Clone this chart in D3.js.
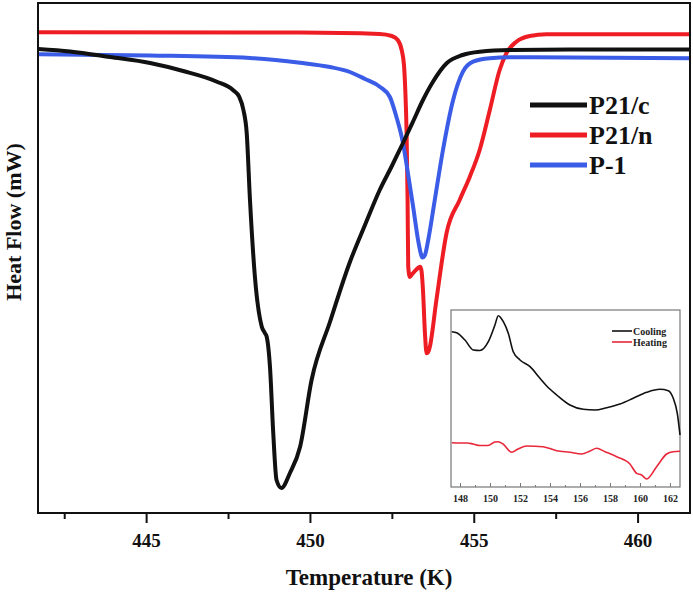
<!DOCTYPE html>
<html><head><meta charset="utf-8">
<script src="https://cdn.jsdelivr.net/npm/d3@7"></script>
<style>
html,body{margin:0;padding:0;background:#fff;}
svg{display:block;font-family:"Liberation Serif","Times New Roman",serif;font-weight:bold;}
</style></head>
<body><svg id="chart" width="693" height="593"></svg>
<script>
// ---- main DSC data: temperature (K) and heat flow (arbitrary units) ----
const p21cT = [441.71,442.68,443.90,445.12,446.13,447.16,447.65,447.84,447.97,448.07,448.17,448.32,448.53,448.63,448.68,448.78,448.88,448.98,449.13,449.39,449.70,450.05,450.61,451.22,451.68,452.13,452.50,452.84,453.14,453.45,453.75,454.18,454.66,455.18,456.19,458.84,461.59];
const p21cV = [46.4,46.15,45.6,45.0,44.2,43.13,42.3,41.63,40.3,38.0,31.3,23.63,18.63,17.97,17.63,14.63,8.0,3.3,2.5,4.0,6.63,13.3,19.1,25.1,28.8,32.3,34.7,37.0,39.1,41.3,43.1,45.0,45.8,46.13,46.3,46.35,46.35];

const p21nT = [441.71,449.70,452.13,452.50,452.68,452.80,452.87,452.91,452.95,452.98,453.00,453.05,453.10,453.15,453.32,453.37,453.41,453.45,453.51,453.56,453.61,453.66,453.86,454.17,454.57,454.88,455.18,455.49,455.79,456.00,456.30,456.71,457.22,461.59];
const p21nV = [48.07,48.05,47.9,47.7,47.3,46.3,44.8,42.3,38.0,31.3,24.6,23.6,23.8,24.0,24.55,24.63,24.1,22.3,18.0,15.97,16.1,16.63,21.3,28.0,31.3,33.63,36.3,40.3,44.3,46.0,47.13,47.7,47.87,47.87];

const p1T = [441.71,445.12,448.17,449.70,450.61,451.22,451.68,452.13,452.44,452.64,452.84,452.99,453.15,453.30,453.38,453.43,453.51,453.61,453.81,454.06,454.37,454.67,454.98,455.49,456.19,461.59];
const p1V = [45.87,45.75,45.5,45.03,44.6,44.1,43.4,42.63,41.6,39.6,37.0,34.0,30.63,27.3,26.0,25.55,25.8,27.3,31.3,36.3,41.3,44.13,45.13,45.47,45.57,45.47];

const seriesNames = ["P21/c","P21/n","P-1"];
const seriesColors = ["#111111","#ee1d24","#3a5ce6"];

const majorTicks = [445,450,455,460];
const minorTicks = [442.5,447.5,452.5,457.5];

// ---- inset data ----
const coolT = [147.45,147.78,148.33,148.89,149.33,149.89,150.33,150.55,150.89,151.22,151.55,152.0,152.67,153.33,153.78,154.45,155.33,156.22,157.0,157.78,158.67,159.55,160.45,161.33,161.89,162.22,162.49,162.67];
const coolV = [15.53,15.43,14.7,13.7,13.65,14.53,16.2,17.13,16.53,15.37,13.53,12.7,12.03,10.87,10.1,9.2,8.2,7.77,7.7,7.93,8.3,8.87,9.47,9.77,9.63,8.87,7.37,5.2];
const heatT = [147.45,148.0,148.47,148.87,149.33,149.87,150.33,150.53,150.87,151.45,151.87,152.45,153.53,154.45,155.33,156.11,156.67,157.11,157.67,158.45,159.33,159.78,160.11,160.45,161.11,161.78,162.22,162.67];
const heatV = [4.43,4.4,4.4,4.3,4.15,4.15,4.5,4.53,4.3,3.47,3.8,4.1,4.03,3.63,3.47,3.3,3.6,3.87,3.53,3.03,2.3,1.37,1.2,0.8,2.03,3.3,3.53,3.57];
const insetNames = ["Cooling","Heating"];
const insetColors = ["#111111","#e8283a"];
const insetLabels = [148,150,152,154,156,158,160,162];
const insetMinor = [149,151,153,155,157,159,161];

// ---- drawing ----
const svg = d3.select("#chart");
const M = {left:38, top:3, right:690, bottom:513};

const x = d3.scaleLinear().domain([441.7,461.6]).range([M.left, M.right]);
const y = d3.scaleLinear().domain([0,51]).range([M.bottom, M.top]);

const line = d3.line().x(d=>x(d[0])).y(d=>y(d[1])).curve(d3.curveMonotoneX);
const zip = (a,b)=>a.map((v,i)=>[v,b[i]]);
const mainSeries = [zip(p21cT,p21cV), zip(p21nT,p21nV), zip(p1T,p1V)];

svg.append("clipPath").attr("id","mclip").append("rect")
  .attr("x",M.left).attr("y",M.top).attr("width",M.right-M.left).attr("height",M.bottom-M.top);

const g = svg.append("g").attr("clip-path","url(#mclip)");
[1,2,0].forEach(i=>{
  g.append("path").datum(mainSeries[i]).attr("d",line)
   .attr("fill","none").attr("stroke",seriesColors[i]).attr("stroke-width",4)
   .attr("stroke-linejoin","round").attr("stroke-linecap","round");
});

// frame
svg.append("rect").attr("x",M.left).attr("y",M.top).attr("width",M.right-M.left).attr("height",M.bottom-M.top)
  .attr("fill","none").attr("stroke","#111").attr("stroke-width",2);

// axis
const ax = svg.append("g").attr("transform",`translate(0,${M.bottom})`)
  .call(d3.axisBottom(x).tickValues(majorTicks).tickSize(10).tickPadding(11).tickFormat(d3.format("d")));
ax.select(".domain").remove();
ax.selectAll(".tick line").attr("stroke","#111").attr("stroke-width",2);
ax.selectAll("text").attr("font-size",19).attr("font-family","Liberation Serif, Times New Roman, serif").attr("font-weight","bold").attr("fill","#111");
const axm = svg.append("g").attr("transform",`translate(0,${M.bottom})`)
  .call(d3.axisBottom(x).tickValues(minorTicks).tickSize(6).tickFormat(""));
axm.select(".domain").remove();
axm.selectAll(".tick line").attr("stroke","#111").attr("stroke-width",2);

svg.append("text").attr("x",(M.left+M.right)/2+5).attr("y",585).attr("text-anchor","middle")
  .attr("font-size",23).attr("fill","#111").text("Temperature (K)");
svg.append("text").attr("transform","translate(21,222) rotate(-90)").attr("text-anchor","middle")
  .attr("font-size",22).attr("fill","#111").text("Heat Flow (mW)");

// legend
const legY = [105,135,165];
seriesNames.forEach((n,i)=>{
  svg.append("line").attr("x1",530).attr("x2",587).attr("y1",legY[i]).attr("y2",legY[i])
    .attr("stroke",seriesColors[i]).attr("stroke-width",5);
  svg.append("text").attr("x",589).attr("y",legY[i]+9).attr("font-size",26).attr("fill","#111").text(n);
});

// ---- inset ----
const I = {left:451, top:310, right:680, bottom:487};
const xi = d3.scaleLinear().domain([147.4,162.67]).range([I.left,I.right]);
const yi = d3.scaleLinear().domain([0,17.7]).range([I.bottom,I.top]);
svg.append("rect").attr("x",I.left).attr("y",I.top).attr("width",I.right-I.left).attr("height",I.bottom-I.top)
  .attr("fill","#fff").attr("stroke","#777").attr("stroke-width",1.2);
const iline = d3.line().x(d=>xi(d[0])).y(d=>yi(d[1])).curve(d3.curveMonotoneX);
const insetSeries = [zip(coolT,coolV), zip(heatT,heatV)];
insetSeries.forEach((s,i)=>{
  svg.append("path").datum(s).attr("d",iline).attr("fill","none")
    .attr("stroke",insetColors[i]).attr("stroke-width",1.6).attr("stroke-linejoin","round");
});
const iax = svg.append("g").attr("transform",`translate(0,${I.bottom})`)
  .call(d3.axisBottom(xi).tickValues(insetLabels).tickSizeInner(-4).tickSizeOuter(0).tickPadding(8).tickFormat(d3.format("d")));
iax.select(".domain").remove();
iax.selectAll(".tick line").attr("stroke","#777");
iax.selectAll("text").attr("font-size",10).attr("font-family","Liberation Serif, Times New Roman, serif").attr("font-weight","bold").attr("fill","#222");
const iaxm = svg.append("g").attr("transform",`translate(0,${I.bottom})`)
  .call(d3.axisBottom(xi).tickValues(insetMinor).tickSizeInner(-2).tickSizeOuter(0).tickFormat(""));
iaxm.select(".domain").remove();
iaxm.selectAll(".tick line").attr("stroke","#777");

const ilegY = [331,342];
insetNames.forEach((n,i)=>{
  svg.append("line").attr("x1",612).attr("x2",632).attr("y1",ilegY[i]).attr("y2",ilegY[i])
    .attr("stroke",insetColors[i]).attr("stroke-width",1.6);
  svg.append("text").attr("x",633).attr("y",ilegY[i]+3.5).attr("font-size",10).attr("fill","#222").text(n);
});
</script></body></html>
